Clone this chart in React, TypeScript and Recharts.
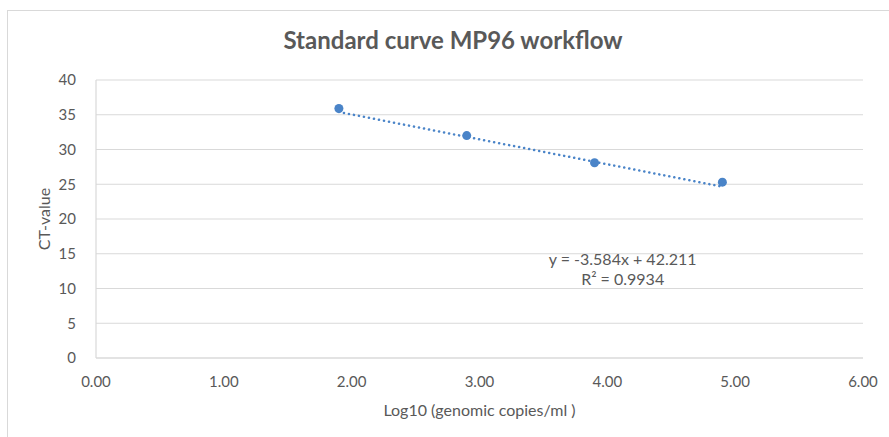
import {
  ScatterChart,
  Scatter,
  XAxis,
  YAxis,
  CartesianGrid,
  ReferenceDot,
} from 'recharts';

// Measured standards
const log10Copies = [1.9, 2.9, 3.9, 4.9];
const ctValues = [35.9, 32.0, 28.1, 25.3];

// Linear trendline as printed on the chart
const slope = -3.584;
const intercept = 42.211;
const rSquared = 0.9934;

const xTicks = [0, 1, 2, 3, 4, 5, 6];
const yTicks = [0, 5, 10, 15, 20, 25, 30, 35, 40];

const points = log10Copies.map((x, i) => ({ x, y: ctValues[i] }));
const trendX = [log10Copies[0], log10Copies[log10Copies.length - 1]];
const trend = trendX.map((x) => ({ x, y: slope * x + intercept }));

const gray = '#595959';
const blue = '#4a84c8';
const font = 'Lato, "Open Sans", sans-serif';

const Nothing = () => <g />;

const App = () => {
  return (
    <div
      style={{
        position: 'absolute',
        left: 0,
        top: 0,
        width: 889,
        height: 437,
        background: '#fff',
        fontFamily: font,
      }}
    >
      <div
        style={{
          position: 'absolute',
          left: 7,
          top: 10,
          width: 900,
          height: 440,
          borderLeft: '1.5px solid #d9d9d9',
          borderTop: '1.5px solid #d9d9d9',
        }}
      />
      <div
        style={{
          position: 'absolute',
          left: 0,
          top: 25,
          width: 906,
          textAlign: 'center',
          fontSize: 24,
          fontWeight: 700,
          color: gray,
        }}
      >
        Standard curve MP96 workflow
      </div>
      <div style={{ position: 'absolute', left: 0, top: 0 }}>
        <ScatterChart
          width={889}
          height={437}
          margin={{ top: 80, right: 26, bottom: 21, left: 36 }}
        >
          <CartesianGrid vertical={false} stroke='#d9d9d9' strokeWidth={1.2} />
          <XAxis
            type='number'
            dataKey='x'
            domain={[0, 6]}
            ticks={xTicks}
            tickFormatter={(v: number) => v.toFixed(2)}
            axisLine={{ stroke: '#d9d9d9', strokeWidth: 1.2 }}
            tickLine={false}
            tick={{ fill: gray, fontSize: 15, fontFamily: font }}
            tickMargin={12}
            height={58}
            label={{
              value: 'Log10 (genomic copies/ml )',
              position: 'insideBottom',
              offset: 0,
              fill: gray,
              fontSize: 16,
              fontFamily: font,
            }}
          />
          <YAxis
            type='number'
            dataKey='y'
            domain={[0, 40]}
            ticks={yTicks}
            axisLine={{ stroke: '#d9d9d9', strokeWidth: 1.2 }}
            tickLine={false}
            tick={{ fill: gray, fontSize: 15, fontFamily: font }}
            tickMargin={14}
            width={60}
            label={{
              value: 'CT-value',
              angle: -90,
              position: 'insideLeft',
              offset: 8,
              fill: gray,
              fontSize: 16,
              fontFamily: font,
              style: { textAnchor: 'middle' },
            }}
          />
          <Scatter
            data={trend}
            shape={Nothing}
            line={{
              stroke: blue,
              strokeWidth: 2.5,
              strokeDasharray: '0.1 5',
              strokeLinecap: 'round',
            }}
            isAnimationActive={false}
          />
          <Scatter
            data={points}
            fill={blue}
            shape={(p: any) => <circle cx={p.cx} cy={p.cy} r={4.5} fill={blue} />}
            isAnimationActive={false}
          />
          <ReferenceDot
            x={4.12}
            y={12.75}
            r={0}
            ifOverflow='visible'
            label={(p: any) => {
              const vb = p.viewBox || {};
              const cx = vb.x + (vb.width || 0) / 2;
              const cy = vb.y + (vb.height || 0) / 2;
              return (
                <text
                  x={cx}
                  y={cy}
                  textAnchor='middle'
                  fill={gray}
                  fontSize={16}
                  fontFamily={font}
                >
                  <tspan x={cx} dy={-4}>
                    {`y = ${slope}x + ${intercept}`}
                  </tspan>
                  <tspan x={cx} dy={20}>
                    R² = {rSquared}
                  </tspan>
                </text>
              );
            }}
          />
        </ScatterChart>
      </div>
    </div>
  );
};

export default App;
